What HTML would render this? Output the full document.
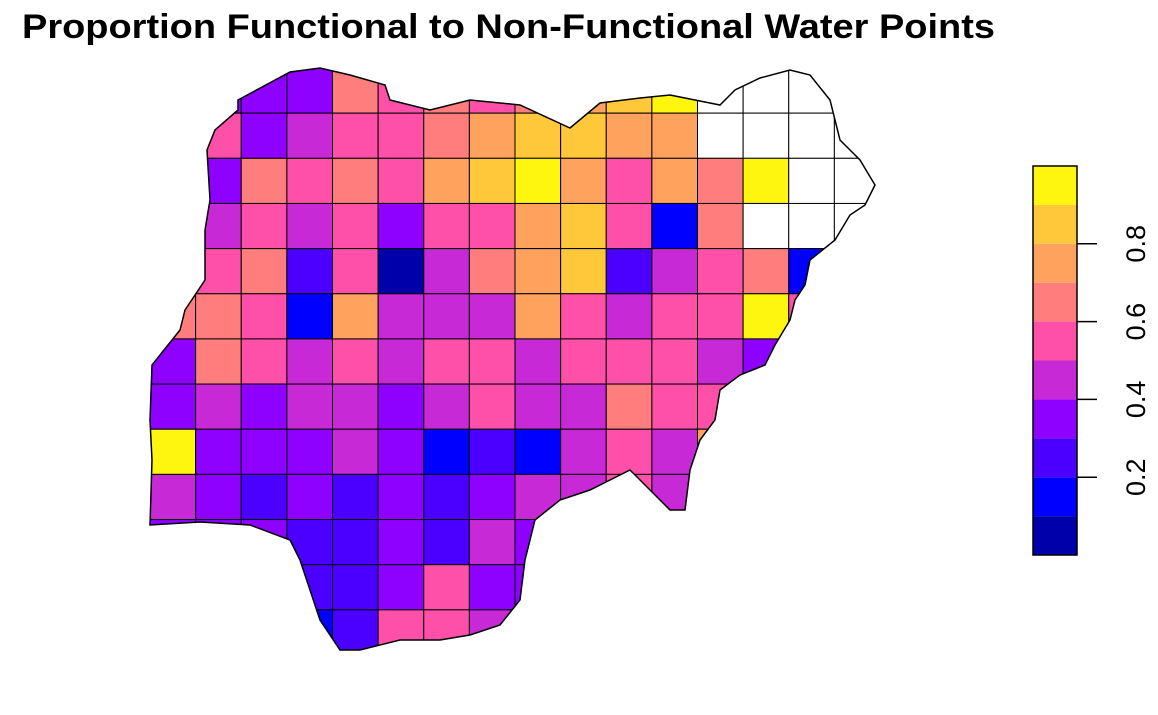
<!DOCTYPE html>
<html><head><meta charset="utf-8"><style>
body{margin:0;background:#fff;width:1158px;height:715px;overflow:hidden}
svg{display:block}
text{font-family:"Liberation Sans",Arial,sans-serif}
</style></head><body>
<svg id="c" width="1158" height="715">
<text x="22" y="38" font-size="34" font-weight="bold" textLength="973" lengthAdjust="spacingAndGlyphs">Proportion Functional to Non-Functional Water Points</text>
<defs><clipPath id="clip"><polygon id="outlinePts"/></clipPath></defs>
<g id="cells" clip-path="url(#clip)"></g>
<polygon id="outline" fill="none" stroke="#000" stroke-width="1.5"/>
<g id="legend"></g>
</svg>
<script>
const NA=-1;
const gridValues=[
[0.35,0.35,0.35,0.35,0.6,0.5,0.6,0.55,0.6,0.75,0.8,0.9,NA,NA,NA,NA],
[0.55,0.55,0.3,0.45,0.55,0.55,0.6,0.7,0.8,0.85,0.7,0.75,NA,NA,NA,NA],
[0.35,0.35,0.6,0.55,0.6,0.55,0.7,0.8,0.9,0.75,0.55,0.7,0.65,0.9,NA,NA],
[0.45,0.45,0.55,0.45,0.5,0.3,0.55,0.55,0.75,0.8,0.5,0.15,0.6,NA,NA,NA],
[0.55,0.55,0.6,0.2,0.55,0.05,0.45,0.6,0.75,0.85,0.25,0.4,0.55,0.6,0.1,0.1],
[0.6,0.6,0.55,0.15,0.7,0.45,0.45,0.45,0.75,0.55,0.45,0.55,0.55,0.9,0.5,0.5],
[0.35,0.6,0.55,0.45,0.5,0.45,0.55,0.5,0.45,0.5,0.55,0.5,0.45,0.3,0.5,0.5],
[0.35,0.45,0.35,0.4,0.45,0.35,0.45,0.55,0.45,0.45,0.6,0.55,0.5,0.45,0.5,0.5],
[0.9,0.35,0.3,0.35,0.45,0.3,0.15,0.2,0.15,0.45,0.55,0.45,0.75,0.5,0.5,0.5],
[0.45,0.3,0.25,0.3,0.25,0.35,0.25,0.35,0.45,0.4,0.55,0.45,0.45,0.5,0.5,0.5],
[0.3,0.3,0.3,0.2,0.25,0.35,0.25,0.45,0.3,0.25,0.5,0.5,0.5,0.5,0.5,0.5],
[0.3,0.3,0.3,0.25,0.2,0.35,0.5,0.35,0.3,0.3,0.5,0.5,0.5,0.5,0.5,0.5],
[0.3,0.3,0.3,0.15,0.2,0.5,0.55,0.4,0.3,0.3,0.5,0.5,0.5,0.5,0.5,0.5]
];
const binColors=["#0000AA","#0000FF","#4B00FF","#8E00FF","#C729D6","#FF50A9","#FF7D7D","#FFA25E","#FFC73A","#FFF60F"];
const tickValues=[0.2,0.4,0.6,0.8];
const tickLabels=["0.2","0.4","0.6","0.8"];
const outline=[[238,100],[290,72],[320,68],[350,75],[385,85],[390,100],[430,110],[470,100],[520,105],[570,128],[600,103],[640,98],[670,95],[720,105],[735,90],[760,78],[790,70],[810,75],[830,100],[840,140],[860,160],[875,185],[865,205],[850,215],[835,240],[810,260],[805,285],[795,300],[790,320],[775,345],[765,365],[740,375],[720,390],[715,420],[700,440],[690,470],[685,510],[670,510],[650,490],[630,470],[610,480],[590,490],[560,500],[535,520],[525,560],[520,600],[500,625],[470,635],[440,640],[400,640],[360,650],[340,650],[320,620],[310,590],[300,560],[290,540],[250,525],[200,522],[150,525],[152,460],[150,420],[152,365],[160,355],[180,330],[185,310],[205,280],[205,230],[210,200],[207,150],[215,130],[238,110]];
const NS="http://www.w3.org/2000/svg";
const ptsStr=outline.map(p=>p.join(",")).join(" ");
document.getElementById("outlinePts").setAttribute("points",ptsStr);
document.getElementById("outline").setAttribute("points",ptsStr);
const x0=150,y0=68,cw=730/16,ch=587/13;
function colorOf(v){if(v<0)return "#fff";return binColors[Math.min(9,Math.max(0,Math.floor(v*10)))];}
const cells=document.getElementById("cells");
gridValues.forEach((row,r)=>row.forEach((v,c)=>{
  const e=document.createElementNS(NS,"rect");
  e.setAttribute("x",x0+c*cw);e.setAttribute("y",y0+r*ch);
  e.setAttribute("width",cw);e.setAttribute("height",ch);
  e.setAttribute("fill",colorOf(v));e.setAttribute("stroke","#000");e.setAttribute("stroke-width","1");
  
  
  cells.appendChild(e);
}));
const lg=document.getElementById("legend");
const lx=1033,lw=44,ltop=166,lbot=555;
const ly=v=>lbot-(lbot-ltop)*v;
binColors.forEach((col,i)=>{
  const e=document.createElementNS(NS,"rect");
  e.setAttribute("x",lx);e.setAttribute("y",ly((i+1)/10));
  e.setAttribute("width",lw);e.setAttribute("height",ly(i/10)-ly((i+1)/10));
  e.setAttribute("fill",col);
  
  
  lg.appendChild(e);
});
const fr=document.createElementNS(NS,"rect");
fr.setAttribute("x",lx);fr.setAttribute("y",ltop);fr.setAttribute("width",lw);fr.setAttribute("height",lbot-ltop);
fr.setAttribute("fill","none");fr.setAttribute("stroke","#000");fr.setAttribute("stroke-width","1.5");


lg.appendChild(fr);
tickValues.forEach((v,i)=>{
  const y=ly(v);
  const t=document.createElementNS(NS,"line");
  t.setAttribute("x1",lx+lw);t.setAttribute("x2",lx+lw+20);t.setAttribute("y1",y);t.setAttribute("y2",y);
  t.setAttribute("stroke","#000");t.setAttribute("stroke-width","1.5");
  
  
  lg.appendChild(t);
  const tx=document.createElementNS(NS,"text");
  tx.setAttribute("transform","translate(1145,"+y+") rotate(-90)");
  tx.setAttribute("text-anchor","middle");tx.setAttribute("font-size","27");
  tx.textContent=tickLabels[i];
  
  
  lg.appendChild(tx);
});
</script>
</body></html>
